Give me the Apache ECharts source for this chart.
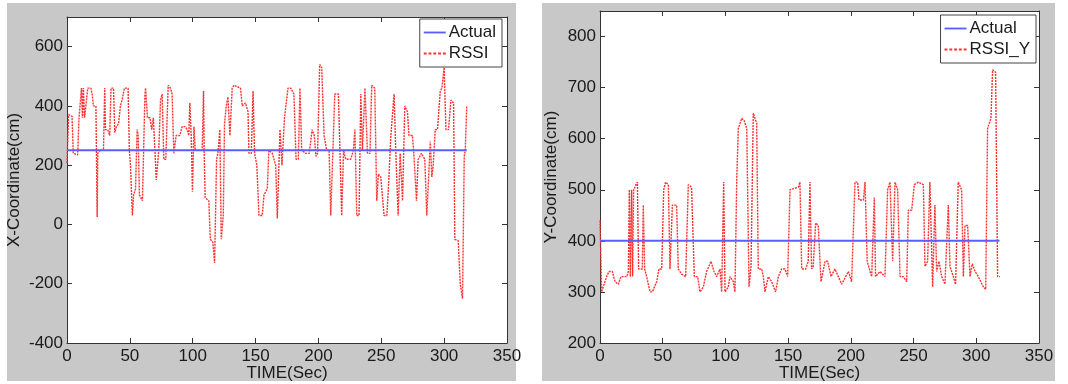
<!DOCTYPE html>
<html>
<head>
<meta charset="utf-8">
<script src="https://cdn.jsdelivr.net/npm/echarts@6/dist/echarts.min.js"></script>
<style>
  body { margin: 0; background: #fff; width: 1068px; height: 384px; position: relative; overflow: hidden; }
  .panel { position: absolute; background: #c8c8c8; }
  #panelX { left: 7px; top: 3px; width: 509px; height: 378px; }
  #panelY { left: 542px; top: 3px; width: 513px; height: 378px; }
  #chart { position: absolute; left: 0; top: 0; width: 1068px; height: 384px; }
</style>
</head>
<body>
<div id="panelX" class="panel"></div>
<div id="panelY" class="panel"></div>
<div id="chart"></div>
<script>
// X coordinate (left)
const timeX = [0, 1.3, 4, 5, 8.5, 9.5, 10.6, 11.5, 12.3, 13, 14, 15.4, 16.5, 19, 20, 21, 23, 24, 24.5, 25.5,
  26.5, 29, 30, 30.6, 32.4, 34, 35, 37, 38, 39.3, 41, 42.5, 43.8, 45.7, 48.6, 49.6, 50.5, 52, 53, 54.5,
  55.8, 56.6, 57.6, 60, 62, 62.5, 64, 66, 67.4, 68.7, 71, 73, 74.4, 75.7, 77, 78.6, 80.5, 82.3, 83.6, 85,
  86.8, 89.7, 91.6, 94, 95.6, 96.9, 97.7, 98.8, 99.8, 101, 102, 107.5, 108.6, 109.1, 109.9, 112.8, 114, 116, 117.4, 119,
  120, 121.6, 122.7, 124.3, 125.3, 126.7, 128, 129.6, 131.4, 132.8, 138, 139.4, 142, 144, 144.7, 146.6, 148, 149.2, 151, 152.7,
  155.3, 156.7, 159.3, 160.6, 163.3, 166, 167.3, 169.4, 171, 173, 173.8, 175.8, 178, 180.5, 182.2, 184, 185.3, 186.7, 190, 192.7,
  195, 196.7, 198, 199.3, 201, 202.6, 204.5, 206.6, 208.5, 209.8, 211.1, 213, 215.9, 218.5, 220, 221.7, 225.7, 227.8, 229, 230.5,
  232.3, 233.7, 235, 237, 239, 241, 242.4, 244.8, 246.4, 247.7, 249.6, 252.2, 254.4, 256, 257.6, 258.9, 260.2, 261.5, 263.4, 265,
  266.9, 268.7, 270.8, 272, 274.8, 276, 278, 279.3, 282, 284.6, 286.2, 287.3, 289, 290.2, 291.3, 292.9, 294.7, 296.9, 298.2, 300,
  301.4, 303.5, 305.4, 307.5, 308.5, 311.2, 312.8, 314.6, 316, 316.8, 318];
const rssiX = [207, 370, 365, 240, 235, 355, 355, 460, 360, 460, 360, 360, 460, 460, 440, 400, 400, 25, 240, 240,
  250, 250, 460, 320, 320, 300, 460, 460, 310, 330, 340, 400, 420, 460, 460, 250, 200, 30, 100, 120,
  320, 300, 100, 80, 440, 460, 360, 360, 320, 360, 150, 250, 420, 440, 220, 220, 470, 460, 440, 240,
  300, 300, 330, 330, 320, 300, 410, 300, 110, 330, 250, 250, 450, 250, 90, 80, -50, -60, -130, 220,
  240, 320, -50, 30, 340, 400, 430, 300, 460, 470, 460, 400, 410, 380, 240, 240, 450, 240, 200, 30,
  30, 100, 120, 250, 240, 200, 20, 320, 200, 360, 360, 460, 460, 440, 220, 220, 460, 250, 240, 240,
  320, 300, 230, 240, 540, 530, 300, 250, 250, 30, 30, 440, 440, 30, 250, 220, 220, 250, 320, 30,
  30, 440, 250, 460, 240, 240, 470, 460, 80, 170, 160, 30, 30, 150, 300, 300, 440, 250, 30, 240,
  80, 400, 380, 300, 300, 230, 80, 220, 240, 220, 30, 30, 280, 160, 200, 320, 320, 450, 460, 530,
  320, 320, 420, 410, -50, -55, -200, -250, 230, 250, 400];
const actualX = 250;

// Y coordinate (right)
const timeY = [0, 1.3, 2.6, 5.3, 7.2, 9.8, 12, 14.6, 16.7, 21.3, 22.6, 23.4, 24.2, 25.2, 26, 26.8, 28.7, 29.8, 30.8, 33.7,
  34.5, 35.6, 37.2, 39.9, 41.7, 45.2, 47, 49.2, 50.8, 52.3, 54.5, 55.8, 57.7, 61.1, 62.4, 65, 68.3, 70.4, 73, 75.2,
  77.9, 79.7, 82.4, 85, 88.5, 90.9, 93, 95.7, 97, 98.6, 99.7, 102.3, 103.6, 106.3, 107.6, 109, 110.3, 113, 115, 117,
  118.8, 120.4, 122.2, 124.9, 126.2, 128.9, 130.2, 131.5, 134.2, 136.9, 140, 142.2, 144.8, 147.5, 149.6, 151.5, 158.1, 159.4, 160.8, 164,
  166, 167.4, 168.7, 170, 171.9, 174, 176.2, 179.4, 181.5, 184.2, 187.3, 190, 192.7, 198, 200.6, 203.3, 205.4, 206.5, 210, 211.3,
  213, 215.3, 216.6, 218.7, 219.7, 223.2, 227.2, 229.3, 231.2, 233.3, 235.2, 237.3, 239.2, 241.8, 244.5, 245.8, 248.5, 250.6, 253.8, 257.8,
  259.1, 261.2, 263, 265.2, 267, 268.4, 270.3, 272.4, 275, 277.7, 279, 281.7, 283.5, 285.6, 288.3, 289.7, 291, 293.1, 295, 296.8,
  299, 301.6, 305.6, 307.5, 309, 311.7, 313, 315.4, 317, 318.9];
const rssiY = [440, 300, 310, 330, 340, 340, 320, 315, 330, 330, 340, 500, 330, 500, 330, 500, 510, 515, 345, 345,
  470, 345, 330, 300, 300, 320, 345, 345, 500, 515, 510, 345, 470, 470, 345, 335, 330, 510, 505, 330,
  330, 300, 310, 340, 360, 340, 330, 345, 300, 515, 300, 310, 330, 320, 300, 520, 620, 640, 635, 620,
  310, 350, 650, 630, 345, 345, 330, 300, 330, 320, 300, 330, 345, 345, 330, 500, 505, 515, 345, 345,
  360, 515, 345, 350, 435, 430, 320, 360, 360, 330, 345, 330, 315, 340, 320, 515, 515, 480, 480, 515,
  360, 340, 330, 485, 330, 340, 330, 500, 515, 360, 515, 500, 330, 330, 320, 460, 460, 510, 515, 510,
  350, 360, 515, 310, 470, 340, 360, 330, 315, 470, 350, 330, 315, 515, 500, 330, 430, 430, 330, 355,
  340, 330, 310, 305, 620, 640, 735, 730, 330, 330];
const actualY = 400;

const xTicks = { min: 0, max: 350, interval: 50 };
const fontFamily = "'Liberation Sans', Arial, sans-serif";
const textColor = "#1a1a1a";
const axisColor = "#333";
const actualColor = "#5c5cff";
const rssiColor = "#ff3030";

// legend icons: a plain line and a dashed line
const solidIcon = "path://M0 0H24V2H0Z";
const dashedIcon = "path://M0 0H3V2H0ZM5 0H8V2H5ZM10 0H13V2H10ZM15 0H18V2H15ZM20 0H23V2H20Z";

const panels = [
  {
    grid: { left: 67, right: 561, top: 17, bottom: 41 },
    legend: { right: 566, top: 19 },
    yName: "X-Coordinate(cm)",
    yNameGap: 44,
    yMin: -400,
    yMax: 700,
    yInterval: 200,
    rssiName: "RSSI",
    times: timeX,
    values: rssiX,
    actual: actualX,
    actualEnd: 318,
  },
  {
    grid: { left: 600, right: 29, top: 11, bottom: 41 },
    legend: { right: 32, top: 15 },
    yName: "Y-Coordinate(cm)",
    yNameGap: 40,
    yMin: 200,
    yMax: 850,
    yInterval: 100,
    rssiName: "RSSI_Y",
    times: timeY,
    values: rssiY,
    actual: actualY,
    actualEnd: 318.5,
  },
];

function pairs(times, values) {
  return times.map((t, i) => [t, values[i]]);
}

function axisBase(gridIndex, position, show) {
  return {
    type: "value",
    gridIndex: gridIndex,
    position: position,
    axisLine: { show: true, onZero: false, lineStyle: { color: axisColor, width: 1 } },
    axisTick: { show: true, inside: true, length: 5, lineStyle: { color: axisColor } },
    axisLabel: {
      show: show,
      color: textColor,
      fontSize: 17,
      fontFamily: fontFamily,
    },
    splitLine: { show: false },
    nameMoveOverlap: false,
  };
}

const chart = echarts.init(document.getElementById("chart"), null, { renderer: "canvas" });

const grids = [];
const legends = [];
const xAxes = [];
const yAxes = [];
const series = [];

panels.forEach((cfg, i) => {
  grids.push(Object.assign(
    { show: true, backgroundColor: "#fff", borderWidth: 0, outerBoundsMode: "none", containLabel: false },
    cfg.grid,
  ));

  legends.push({
    orient: "vertical",
    right: cfg.legend.right,
    top: cfg.legend.top,
    data: [
      { name: "Actual", icon: solidIcon },
      { name: cfg.rssiName, icon: dashedIcon },
    ],
    backgroundColor: "#fff",
    borderColor: "#444",
    borderWidth: 1,
    padding: [5, 6, 5, 4],
    itemGap: 4,
    itemWidth: 22,
    itemHeight: 2,
    textStyle: { color: textColor, fontSize: 17, fontFamily: fontFamily, lineHeight: 17, padding: [0, 0, 0, -2] },
  });

  const xBottom = Object.assign(axisBase(i, "bottom", true), xTicks, {
    name: "TIME(Sec)",
    nameLocation: "middle",
    nameGap: 22,
    nameTextStyle: { color: textColor, fontSize: 17, fontFamily: fontFamily },
  });
  xBottom.axisLabel.margin = 5;
  xAxes.push(xBottom, Object.assign(axisBase(i, "top", false), xTicks));

  const yRange = { min: cfg.yMin, max: cfg.yMax, interval: cfg.yInterval };
  const yLeft = Object.assign(axisBase(i, "left", true), yRange, {
    name: cfg.yName,
    nameLocation: "middle",
    nameGap: cfg.yNameGap,
    nameTextStyle: { color: textColor, fontSize: 17, fontFamily: fontFamily },
  });
  yLeft.axisLabel.margin = 4;
  yLeft.axisLabel.showMaxLabel = false;
  yAxes.push(yLeft, Object.assign(axisBase(i, "right", false), yRange));

  series.push(
    {
      name: "Actual",
      type: "line",
      xAxisIndex: i * 2,
      yAxisIndex: i * 2,
      symbol: "none",
      data: [[0, cfg.actual], [cfg.actualEnd, cfg.actual]],
      lineStyle: { color: actualColor, width: 2 },
      itemStyle: { color: actualColor },
      z: 3,
    },
    {
      name: cfg.rssiName,
      type: "line",
      xAxisIndex: i * 2,
      yAxisIndex: i * 2,
      symbol: "none",
      data: pairs(cfg.times, cfg.values),
      lineStyle: { color: rssiColor, width: 1.4, type: [2, 1] },
      itemStyle: { color: rssiColor },
      z: 2,
    },
  );
});

chart.setOption({
  animation: false,
  grid: grids,
  legend: legends,
  xAxis: xAxes,
  yAxis: yAxes,
  series: series,
});
</script>
</body>
</html>
